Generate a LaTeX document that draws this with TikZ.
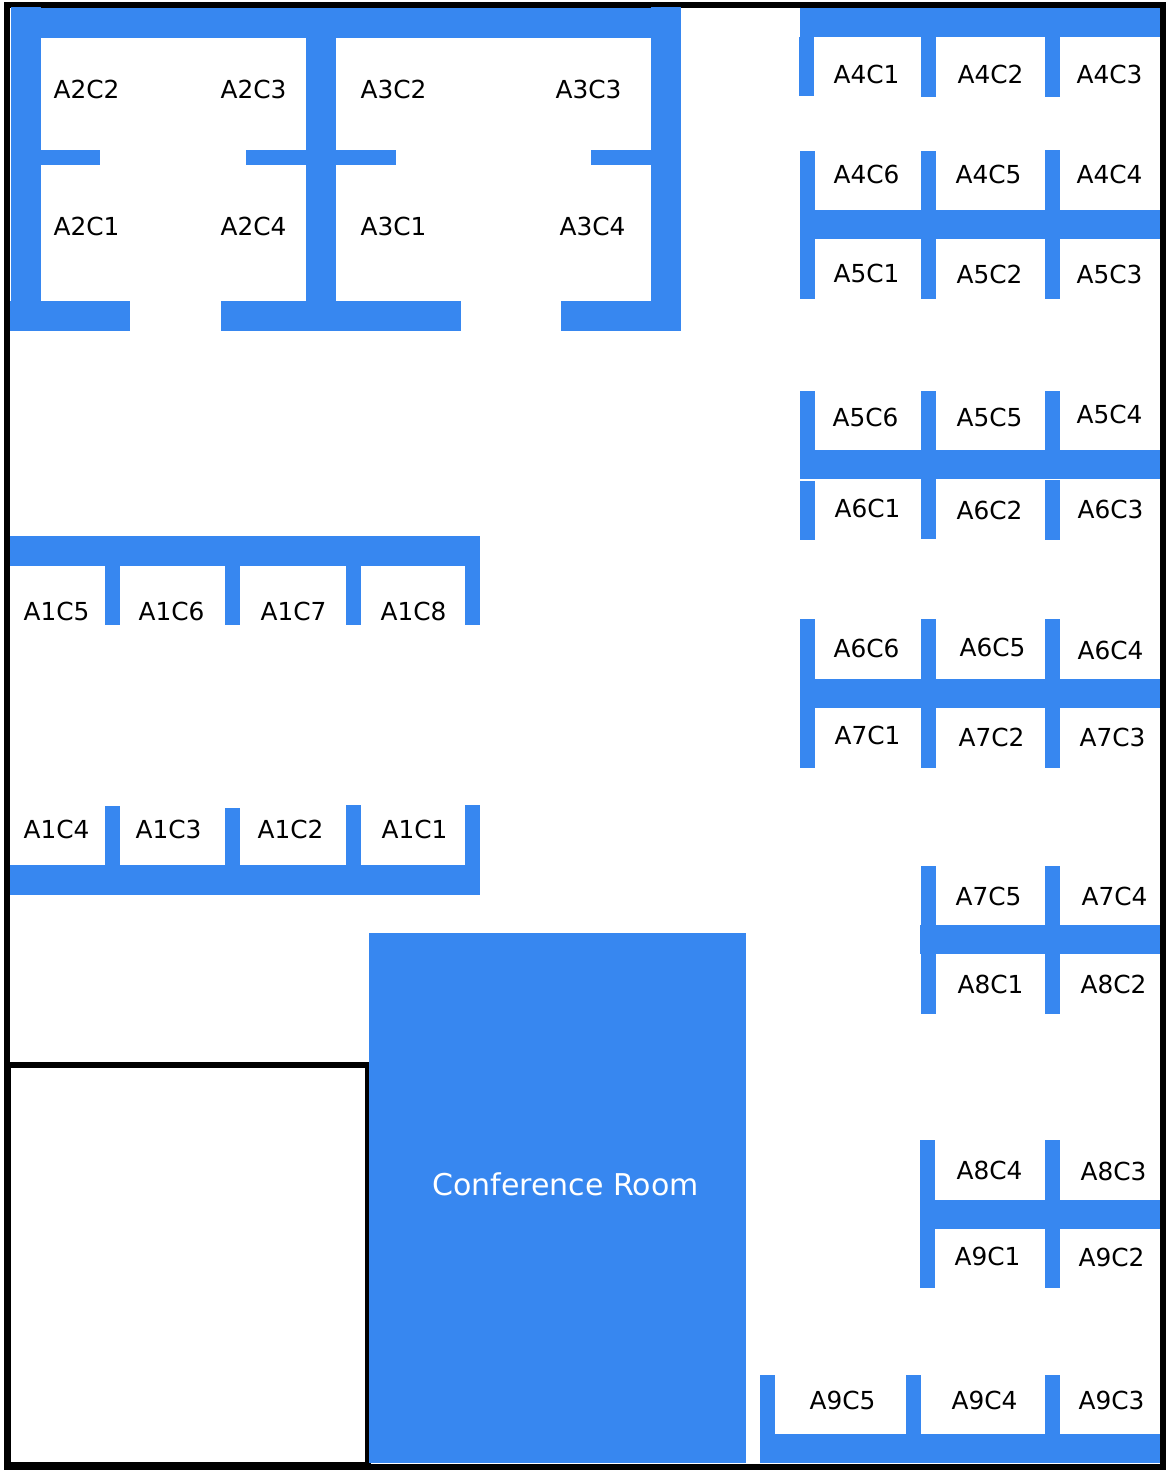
\documentclass[tikz,border=0pt]{standalone}
\usepackage{fontspec}
\setmainfont{DejaVu Sans}
\definecolor{wallblue}{HTML}{3787F0}
\tikzset{
  wall/.style={fill=wallblue},
  frame/.style={fill=black},
  seat/.style={inner sep=0pt,text=black,xshift=0.25pt,font=\fontsize{12.4}{14}\selectfont},
  roomlabel/.style={inner sep=0pt,text=white,font=\fontsize{15}{17}\selectfont}
}
\begin{document}
\begin{tikzpicture}[x=0.5pt,y=-0.5pt]
\useasboundingbox (0,0) rectangle (1172,1475);
% outer frame
\fill[frame] (4,2) rectangle (1166,8);
\fill[frame] (4,2) rectangle (10,1470);
\fill[frame] (1160,2) rectangle (1166,1470);
\fill[frame] (371,1464) rectangle (1166,1470);
% closed room
\fill[frame] (4,1062) rectangle (369,1068);
\fill[frame] (4,1062) rectangle (11,1470);
\fill[frame] (365,1062) rectangle (369,1470);
\fill[frame] (4,1462) rectangle (371,1470);
% conference room
\fill[wall] (369,933) rectangle (746,1463);
\node[roomlabel] (conference) at (565.5,1184) {Conference Room};
% block A2 and A3
\fill[wall] (11,8) rectangle (681,38);
\fill[wall] (11,7) rectangle (41,301);
\fill[wall] (651,7) rectangle (681,301);
\fill[wall] (306,38) rectangle (336,301);
\fill[wall] (10,301) rectangle (130,331);
\fill[wall] (221,301) rectangle (461,331);
\fill[wall] (561,301) rectangle (681,331);
\fill[wall] (41,150) rectangle (100,165);
\fill[wall] (246,150) rectangle (306,165);
\fill[wall] (336,150) rectangle (396,165);
\fill[wall] (591,150) rectangle (651,165);
% block A1
\fill[wall] (10,536) rectangle (480,566);
\fill[wall] (105,566) rectangle (120,625);
\fill[wall] (225,566) rectangle (240,625);
\fill[wall] (346,566) rectangle (361,625);
\fill[wall] (465,566) rectangle (480,625);
\fill[wall] (105,806) rectangle (120,865);
\fill[wall] (225,808) rectangle (240,865);
\fill[wall] (346,805) rectangle (361,865);
\fill[wall] (465,805) rectangle (480,865);
\fill[wall] (10,865) rectangle (480,895);
% block A4
\fill[wall] (800,8) rectangle (1160,37);
\fill[wall] (799,37) rectangle (814,96);
\fill[wall] (921,37) rectangle (936,97);
\fill[wall] (1045,37) rectangle (1060,97);
% block A4 and A5
\fill[wall] (800,151) rectangle (815,210);
\fill[wall] (921,151) rectangle (936,210);
\fill[wall] (1045,150) rectangle (1060,210);
\fill[wall] (800,210) rectangle (1160,239);
\fill[wall] (800,239) rectangle (815,299);
\fill[wall] (921,239) rectangle (936,299);
\fill[wall] (1045,239) rectangle (1060,299);
% block A5 and A6
\fill[wall] (800,391) rectangle (815,450);
\fill[wall] (921,391) rectangle (936,450);
\fill[wall] (1045,391) rectangle (1060,450);
\fill[wall] (800,450) rectangle (1160,479);
\fill[wall] (800,481) rectangle (815,540);
\fill[wall] (921,479) rectangle (936,539);
\fill[wall] (1045,480) rectangle (1060,540);
% block A6 and A7
\fill[wall] (800,619) rectangle (815,679);
\fill[wall] (921,619) rectangle (936,679);
\fill[wall] (1045,619) rectangle (1060,679);
\fill[wall] (800,679) rectangle (1160,708);
\fill[wall] (800,708) rectangle (815,768);
\fill[wall] (921,708) rectangle (936,768);
\fill[wall] (1045,708) rectangle (1060,768);
% block A7 and A8
\fill[wall] (921,866) rectangle (936,925);
\fill[wall] (1045,866) rectangle (1060,925);
\fill[wall] (920,925) rectangle (1160,954);
\fill[wall] (921,954) rectangle (936,1014);
\fill[wall] (1045,954) rectangle (1060,1014);
% block A8 and A9
\fill[wall] (920,1140) rectangle (935,1200);
\fill[wall] (1045,1140) rectangle (1060,1200);
\fill[wall] (920,1200) rectangle (1160,1229);
\fill[wall] (920,1229) rectangle (935,1288);
\fill[wall] (1045,1229) rectangle (1060,1288);
% block A9
\fill[wall] (760,1375) rectangle (775,1434);
\fill[wall] (906,1375) rectangle (921,1434);
\fill[wall] (1045,1375) rectangle (1060,1434);
\fill[wall] (760,1434) rectangle (1160,1463);
% seats
\node[seat] (A2C2) at (86,89) {A2C2};
\node[seat] (A2C3) at (253,89) {A2C3};
\node[seat] (A3C2) at (393,89) {A3C2};
\node[seat] (A3C3) at (588,89) {A3C3};
\node[seat] (A2C1) at (86,226) {A2C1};
\node[seat] (A2C4) at (253,226) {A2C4};
\node[seat] (A3C1) at (393,226) {A3C1};
\node[seat] (A3C4) at (592,226) {A3C4};
\node[seat] (A1C5) at (56,611) {A1C5};
\node[seat] (A1C6) at (171,611) {A1C6};
\node[seat] (A1C7) at (293,611) {A1C7};
\node[seat] (A1C8) at (413,611) {A1C8};
\node[seat] (A1C4) at (56,829) {A1C4};
\node[seat] (A1C3) at (168,829) {A1C3};
\node[seat] (A1C2) at (290,829) {A1C2};
\node[seat] (A1C1) at (414,829) {A1C1};
\node[seat] (A4C1) at (866,74) {A4C1};
\node[seat] (A4C2) at (990,74) {A4C2};
\node[seat] (A4C3) at (1109,74) {A4C3};
\node[seat] (A4C6) at (866,174) {A4C6};
\node[seat] (A4C5) at (988,174) {A4C5};
\node[seat] (A4C4) at (1109,174) {A4C4};
\node[seat] (A5C1) at (866,273) {A5C1};
\node[seat] (A5C2) at (989,274) {A5C2};
\node[seat] (A5C3) at (1109,274) {A5C3};
\node[seat] (A5C6) at (865,417) {A5C6};
\node[seat] (A5C5) at (989,417) {A5C5};
\node[seat] (A5C4) at (1109,414) {A5C4};
\node[seat] (A6C1) at (867,508) {A6C1};
\node[seat] (A6C2) at (989,510) {A6C2};
\node[seat] (A6C3) at (1110,509) {A6C3};
\node[seat] (A6C6) at (866,648) {A6C6};
\node[seat] (A6C5) at (992,647) {A6C5};
\node[seat] (A6C4) at (1110,650) {A6C4};
\node[seat] (A7C1) at (867,735) {A7C1};
\node[seat] (A7C2) at (991,737) {A7C2};
\node[seat] (A7C3) at (1112,737) {A7C3};
\node[seat] (A7C5) at (988,896) {A7C5};
\node[seat] (A7C4) at (1114,896) {A7C4};
\node[seat] (A8C1) at (990,984) {A8C1};
\node[seat] (A8C2) at (1113,984) {A8C2};
\node[seat] (A8C4) at (989,1170) {A8C4};
\node[seat] (A8C3) at (1113,1171) {A8C3};
\node[seat] (A9C1) at (987,1256) {A9C1};
\node[seat] (A9C2) at (1111,1257) {A9C2};
\node[seat] (A9C5) at (842,1400) {A9C5};
\node[seat] (A9C4) at (984,1400) {A9C4};
\node[seat] (A9C3) at (1111,1400) {A9C3};
\end{tikzpicture}
\end{document}
